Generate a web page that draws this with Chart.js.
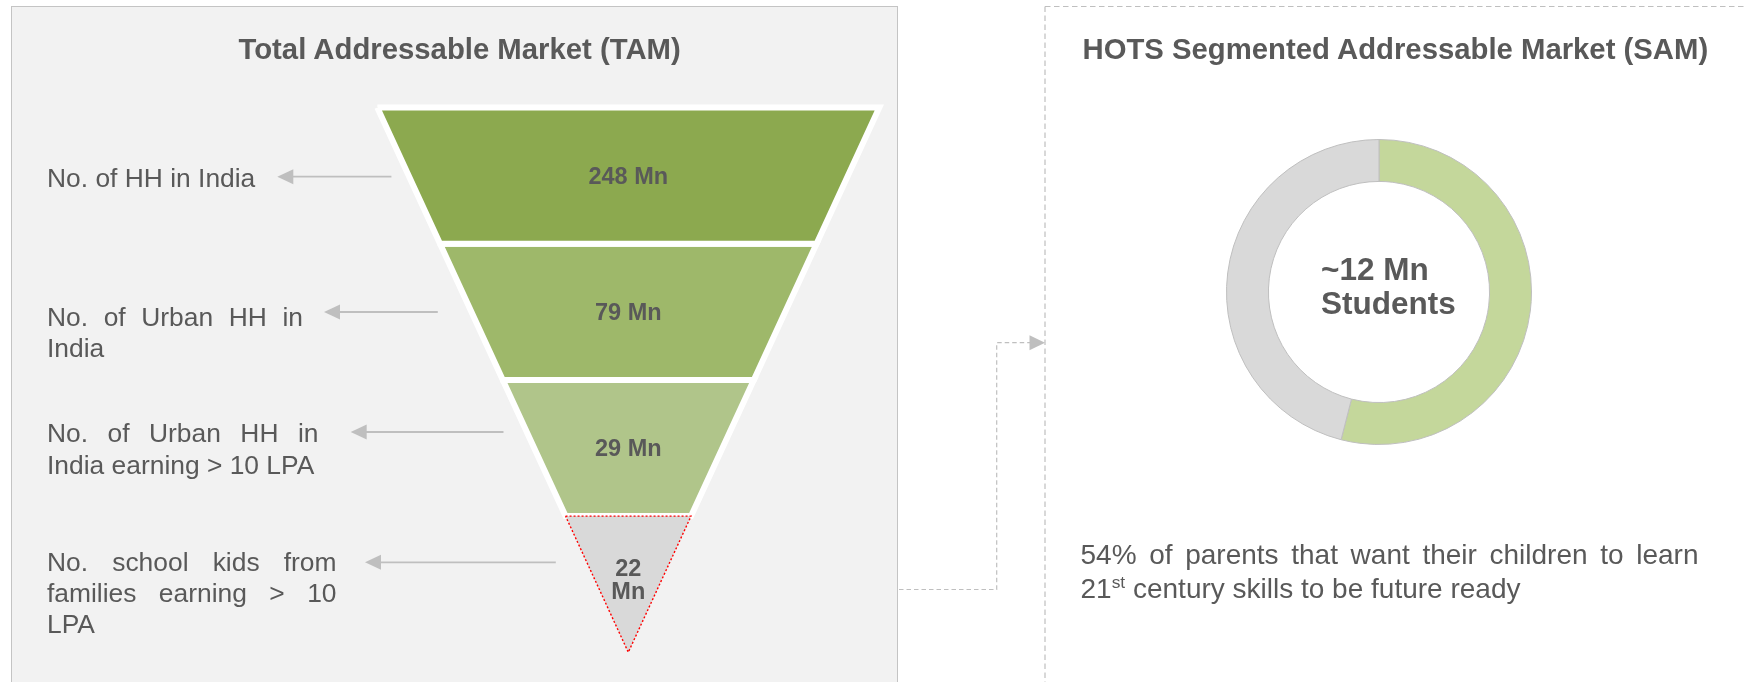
<!DOCTYPE html>
<html>
<head>
<meta charset="utf-8">
<script src="https://cdn.jsdelivr.net/npm/chart.js@4.4.1/dist/chart.umd.min.js"></script>
<style>
  html, body { margin:0; padding:0; background:#ffffff; width:1747px; height:682px; overflow:hidden;
    font-family:"Liberation Sans", Arial, sans-serif; color:#595959; }
  #leftPanel { position:absolute; left:11px; top:6px; width:887px; height:720px; background:#f2f2f2;
    border:1px solid #c4c4c4; box-sizing:border-box; }
  canvas { position:absolute; }
  #overlay { position:absolute; left:0; top:0; }
  .t { position:absolute; white-space:nowrap; }
  .j { white-space:normal; text-align:justify; text-align-last:justify; }
</style>
</head>
<body>
<div id="leftPanel"></div>
<canvas id="funnel" width="900" height="682" style="left:0;top:0;"></canvas>
<canvas id="donut" width="306" height="306" style="left:1225.7px;top:139px;"></canvas>
<svg id="overlay" width="1747" height="682" xmlns="http://www.w3.org/2000/svg"></svg>
<div id="texts"></div>
<script>
// ---------------- DATA ----------------
const tamTitle = 'Total Addressable Market (TAM)';
const samTitle = 'HOTS Segmented Addressable Market (SAM)';
const stageLabels = [
  ['No. of HH in India'],
  ['No. of Urban HH in', 'India'],
  ['No. of Urban HH in', 'India earning > 10 LPA'],
  ['No. school kids from', 'families earning > 10', 'LPA']
];
const stageValues = [248, 79, 29, 22];
const valueUnit = 'Mn';
const samSegments = ['Parents wanting 21st century skills', 'Others'];
const samShares = [54, 46];
const samCenterLines = ['~12 Mn', 'Students'];
const samNoteLines = ['54% of parents that want their children to learn', '21|st| century skills to be future ready'];

// ---------------- STYLE / LAYOUT ----------------
const TXT = '#595959';
const stageColors = ['#8ca94f', '#9eb86a', '#b0c58a', '#d9d9d9'];
const samColors = ['#c4d79b', '#d9d9d9'];
const FONT = '"Liberation Sans", Arial, sans-serif';
const labelLayout = [
  { x: 47, base: 187.5, width: null, tipX: 277.3, endX: 391.4, arrowY: 176.7 },
  { x: 47, base: 326.5, width: 256,  tipX: 324.0, endX: 437.8, arrowY: 312.0 },
  { x: 47, base: 443.3, width: 271.5, tipX: 350.7, endX: 503.5, arrowY: 432.0 },
  { x: 47, base: 571.7, width: 289.5, tipX: 365.0, endX: 555.8, arrowY: 562.3 }
];

// ---------------- TEXT HELPERS ----------------
const textHost = document.getElementById('texts');
function addLine(html, x, baseline, size, opts = {}) {
  const d = document.createElement('div');
  d.className = 't' + (opts.width ? ' j' : '');
  d.style.left = x + 'px';
  d.style.top = (baseline - 0.9465 * size) + 'px';
  d.style.fontSize = size + 'px';
  d.style.lineHeight = (size * 1.2) + 'px';
  d.style.fontWeight = opts.bold ? 'bold' : 'normal';
  d.style.color = TXT;
  if (opts.width) d.style.width = opts.width + 'px';
  d.innerHTML = html;
  textHost.appendChild(d);
}
function esc(s) { return s.replace(/&/g,'&amp;').replace(/</g,'&lt;').replace(/>/g,'&gt;'); }

// Titles
addLine(esc(tamTitle), 238.5, 59, 29.3, { bold: true });
addLine(esc(samTitle), 1082.5, 59, 29.3, { bold: true });

// Stage labels (justified paragraphs, last line left-aligned)
stageLabels.forEach((lines, i) => {
  const L = labelLayout[i];
  lines.forEach((ln, k) => {
    const justify = L.width && k < lines.length - 1;
    addLine(esc(ln), L.x, L.base + k * 31.2, 26.4, { width: justify ? L.width : null });
  });
});

// Donut centre text
samCenterLines.forEach((ln, k) => addLine(esc(ln), 1321, 281 + k * 34, 31.5, { bold: true }));

// Note under the donut
samNoteLines.forEach((ln, k) => {
  const parts = ln.split('|');
  let html = esc(parts[0]);
  if (parts.length > 1) html += '<span style="font-size:0.62em;vertical-align:0.6em;line-height:0">' + esc(parts[1]) + '</span>' + esc(parts[2]);
  addLine(html, 1080.5, 564.3 + k * 34.2, 28, { width: k === 0 ? 618 : null });
});

// ---------------- SVG DECORATION (arrows, dashed frame, connector) ----------------
const svg = document.getElementById('overlay');
const NS = 'http://www.w3.org/2000/svg';
function el(tag, attrs) { const e = document.createElementNS(NS, tag); for (const k in attrs) e.setAttribute(k, attrs[k]); svg.appendChild(e); return e; }
const GRAY = '#bfbfbf';
labelLayout.forEach(L => {
  el('line', { x1: L.tipX + 14, y1: L.arrowY, x2: L.endX, y2: L.arrowY, stroke: GRAY, 'stroke-width': 1.8 });
  el('polygon', { points: `${L.tipX},${L.arrowY} ${L.tipX + 16},${L.arrowY - 7.5} ${L.tipX + 16},${L.arrowY + 7.5}`, fill: GRAY });
});
// dashed SAM frame
el('line', { x1: 1045, y1: 6.5, x2: 1747, y2: 6.5, stroke: GRAY, 'stroke-width': 1.2, 'stroke-dasharray': '5.5 3.5' });
el('line', { x1: 1045, y1: 6.5, x2: 1045, y2: 682, stroke: GRAY, 'stroke-width': 1.2, 'stroke-dasharray': '5.5 3.5' });
// elbow connector
el('polyline', { points: '899,589.5 996.7,589.5 996.7,342.7 1030,342.7', fill: 'none', stroke: GRAY, 'stroke-width': 1.2, 'stroke-dasharray': '4.5 3' });
el('polygon', { points: '1029.5,335.2 1045,342.7 1029.5,350.2', fill: GRAY });

// ---------------- FUNNEL (Chart.js line polygons filled as shapes) ----------------
const N = stageValues.length;
const halfW = d => (N - d) / N;   // normalised half-width at depth d
const funnelDatasets = stageValues.map((v, i) => {
  const last = i === N - 1;
  const pts = last
    ? [{x: -halfW(i), y: i}, {x: halfW(i), y: i}, {x: 0, y: N}, {x: -halfW(i), y: i}]
    : [{x: -halfW(i), y: i}, {x: halfW(i), y: i}, {x: halfW(i + 1), y: i + 1}, {x: -halfW(i + 1), y: i + 1}, {x: -halfW(i), y: i}];
  return {
    label: stageLabels[i].join(' '),
    data: pts,
    fill: 'shape',
    backgroundColor: stageColors[i],
    borderColor: last ? '#ff0000' : '#ffffff',
    borderWidth: last ? 1.4 : 6,
    borderDash: last ? [2, 2] : [],
    borderJoinStyle: 'miter',
    pointRadius: 0,
    tension: 0,
    clip: false,
    order: last ? 0 : 1
  };
});

const funnelLabels = {
  id: 'funnelLabels',
  afterDatasetsDraw(chart) {
    const { ctx, scales: { x, y } } = chart;
    const F = 23.5;
    ctx.save();
    ctx.fillStyle = TXT;
    ctx.font = `bold ${F}px ${FONT}`;
    ctx.textAlign = 'center';
    ctx.textBaseline = 'alphabetic';
    stageValues.forEach((v, i) => {
      const cx = x.getPixelForValue(0);
      const last = i === N - 1;
      const cy = y.getPixelForValue(i + (last ? 0.46 : 0.5));
      const capHalf = 0.36 * F;
      if (last) {
        ctx.fillText(String(v), cx, cy - 11.7 + capHalf);
        ctx.fillText(valueUnit, cx, cy + 11.7 + capHalf);
      } else {
        ctx.fillText(`${v} ${valueUnit}`, cx, cy + capHalf);
      }
    });
    ctx.restore();
  }
};

new Chart(document.getElementById('funnel'), {
  type: 'line',
  data: { datasets: funnelDatasets },
  options: {
    responsive: false,
    animation: false,
    events: [],
    layout: { padding: 0, autoPadding: false },
    plugins: { legend: { display: false }, tooltip: { enabled: false }, title: { display: false } },
    scales: {
      x: { type: 'linear', display: false, bounds: 'data', min: -628.3 / 251, max: (900 - 628.3) / 251 },
      y: { type: 'linear', display: false, bounds: 'data', reverse: true, min: -107.5 / 136.2, max: (682 - 107.5) / 136.2 }
    }
  },
  plugins: [funnelLabels]
});

// ---------------- DONUT ----------------
new Chart(document.getElementById('donut'), {
  type: 'doughnut',
  data: {
    labels: samSegments,
    datasets: [{ data: samShares, backgroundColor: samColors, borderColor: '#bfbfbf', borderWidth: 1 }]
  },
  options: {
    responsive: false,
    animation: false,
    events: [],
    cutout: '72.5%',
    layout: { padding: 0 },
    plugins: { legend: { display: false }, tooltip: { enabled: false } }
  }
});
</script>
</body>
</html>
